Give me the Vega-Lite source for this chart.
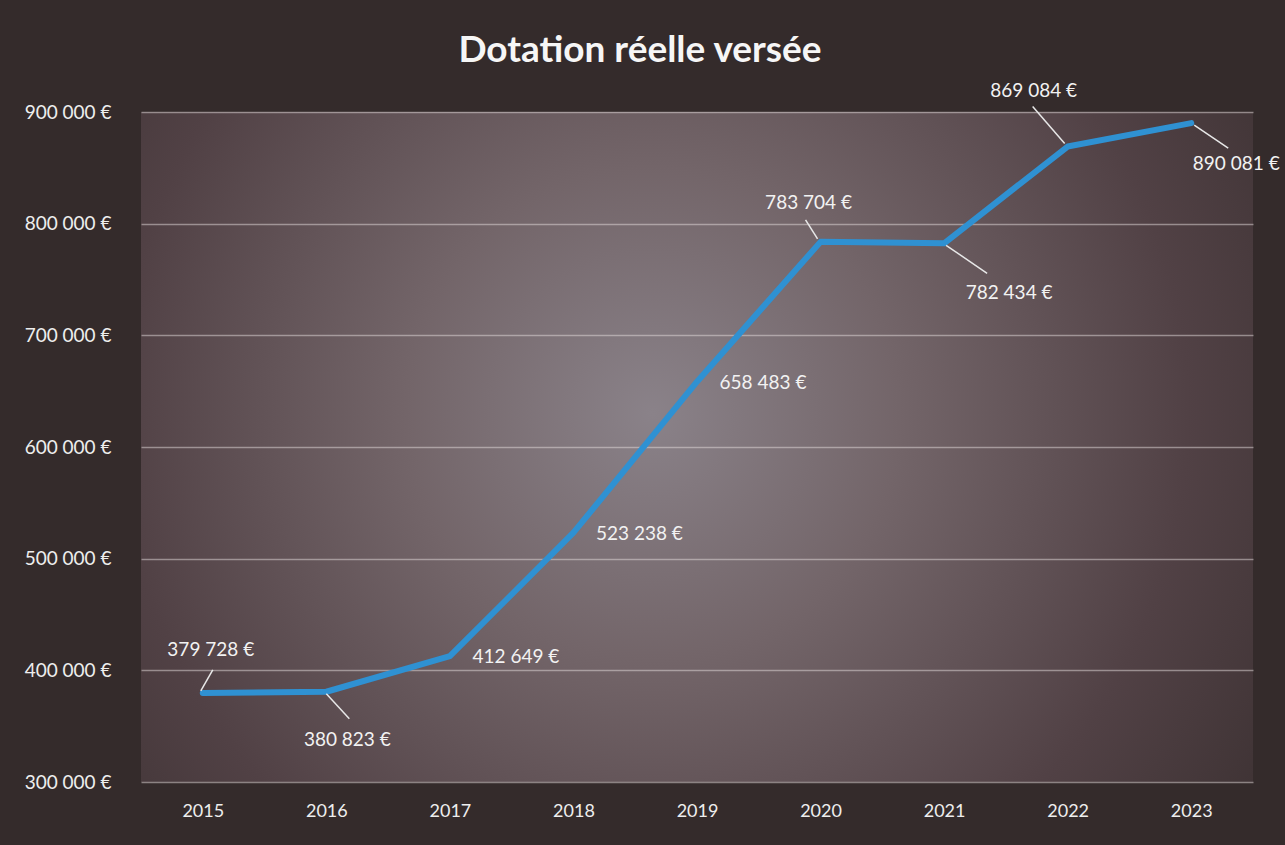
{
  "$schema": "https://vega.github.io/schema/vega-lite/v6.json",
  "width": 1112,
  "height": 670,
  "autosize": {"type": "none"},
  "padding": {"left": 141, "top": 112, "right": 32, "bottom": 63},
  "background": "#342b2b",
  "config": {
    "locale": {"number": {"decimal": ",", "thousands": " ", "grouping": [3], "currency": ["", " €"]}},
    "view": {
      "stroke": null,
      "fill": {
        "gradient": "radial",
        "x1": 0.46, "y1": 0.47, "r1": 0,
        "x2": 0.46, "y2": 0.47, "r2": 0.74,
        "stops": [
          {"offset": 0, "color": "#8a8289"},
          {"offset": 0.3, "color": "#736569"},
          {"offset": 0.65, "color": "#514145"},
          {"offset": 1, "color": "#342b2b"}
        ]
      }
    },
    "font": "Lato",
    "text": {"font": "Lato", "fontSize": 19, "color": "#f2f2f2", "align": "center", "baseline": "middle"}
  },
  "title": {
    "text": "Dotation réelle versée",
    "font": "Lato",
    "fontSize": 37,
    "fontWeight": "bold",
    "color": "#f6f6f6",
    "anchor": "middle",
    "frame": "group",
    "dx": -57,
    "offset": 12
  },
  "data": {
    "values": [
      {"year": "2015", "value": 379728},
      {"year": "2016", "value": 380823},
      {"year": "2017", "value": 412649},
      {"year": "2018", "value": 523238},
      {"year": "2019", "value": 658483},
      {"year": "2020", "value": 783704},
      {"year": "2021", "value": 782434},
      {"year": "2022", "value": 869084},
      {"year": "2023", "value": 890081}
    ]
  },
  "encoding": {
    "x": {
      "field": "year",
      "type": "ordinal",
      "scale": {"type": "point", "padding": 0.5},
      "axis": {
        "title": null,
        "labelAngle": 0,
        "labelFont": "Lato",
        "labelFontSize": 18,
        "labelColor": "#eeeeee",
        "labelPadding": 20,
        "domain": false,
        "ticks": false,
        "grid": false
      }
    },
    "y": {
      "field": "value",
      "type": "quantitative",
      "scale": {"domain": [300000, 900000], "nice": false, "zero": false},
      "axis": {
        "title": null,
        "values": [300000, 400000, 500000, 600000, 700000, 800000, 900000],
        "format": "$,d",
        "labelFont": "Lato",
        "labelFontSize": 19,
        "labelColor": "#eeeeee",
        "labelPadding": 30,
        "domain": false,
        "ticks": false,
        "grid": true,
        "gridColor": "#e4dcdc",
        "gridOpacity": 0.5,
        "gridWidth": 1.5
      }
    }
  },
  "layer": [
    {
      "mark": {"type": "line", "color": "#2f91d2", "strokeWidth": 6, "strokeJoin": "round", "strokeCap": "round"}
    },
    {
      "transform": [{"filter": "datum.year == '2015'"}],
      "mark": {"type": "rule", "color": "#e8e8e8", "strokeWidth": 1.5, "xOffset": -2, "yOffset": -2, "x2Offset": 10, "y2Offset": -23},
      "encoding": {"x2": {"field": "year"}, "y2": {"field": "value"}}
    },
    {
      "transform": [{"filter": "datum.year == '2016'"}],
      "mark": {"type": "rule", "color": "#e8e8e8", "strokeWidth": 1.5, "xOffset": 0, "yOffset": 2, "x2Offset": 23, "y2Offset": 27},
      "encoding": {"x2": {"field": "year"}, "y2": {"field": "value"}}
    },
    {
      "transform": [{"filter": "datum.year == '2020'"}],
      "mark": {"type": "rule", "color": "#e8e8e8", "strokeWidth": 1.5, "xOffset": -3, "yOffset": -3, "x2Offset": -15, "y2Offset": -22},
      "encoding": {"x2": {"field": "year"}, "y2": {"field": "value"}}
    },
    {
      "transform": [{"filter": "datum.year == '2021'"}],
      "mark": {"type": "rule", "color": "#e8e8e8", "strokeWidth": 1.5, "xOffset": 2, "yOffset": 2, "x2Offset": 43, "y2Offset": 30},
      "encoding": {"x2": {"field": "year"}, "y2": {"field": "value"}}
    },
    {
      "transform": [{"filter": "datum.year == '2022'"}],
      "mark": {"type": "rule", "color": "#e8e8e8", "strokeWidth": 1.5, "xOffset": -3, "yOffset": -3, "x2Offset": -35, "y2Offset": -40},
      "encoding": {"x2": {"field": "year"}, "y2": {"field": "value"}}
    },
    {
      "transform": [{"filter": "datum.year == '2023'"}],
      "mark": {"type": "rule", "color": "#e8e8e8", "strokeWidth": 1.5, "xOffset": 3, "yOffset": 2, "x2Offset": 37, "y2Offset": 25},
      "encoding": {"x2": {"field": "year"}, "y2": {"field": "value"}}
    },
    {
      "transform": [{"filter": "datum.year == '2015'"}],
      "mark": {"type": "text", "dx": 8, "dy": -43},
      "encoding": {"text": {"field": "value", "type": "quantitative", "format": "$,d"}}
    },
    {
      "transform": [{"filter": "datum.year == '2016'"}],
      "mark": {"type": "text", "dx": 21, "dy": 48},
      "encoding": {"text": {"field": "value", "type": "quantitative", "format": "$,d"}}
    },
    {
      "transform": [{"filter": "datum.year == '2017' || datum.year == '2018' || datum.year == '2019'"}],
      "mark": {"type": "text", "dx": 66, "dy": 1},
      "encoding": {"text": {"field": "value", "type": "quantitative", "format": "$,d"}}
    },
    {
      "transform": [{"filter": "datum.year == '2020'"}],
      "mark": {"type": "text", "dx": -12, "dy": -39},
      "encoding": {"text": {"field": "value", "type": "quantitative", "format": "$,d"}}
    },
    {
      "transform": [{"filter": "datum.year == '2021'"}],
      "mark": {"type": "text", "dx": 65, "dy": 50},
      "encoding": {"text": {"field": "value", "type": "quantitative", "format": "$,d"}}
    },
    {
      "transform": [{"filter": "datum.year == '2022'"}],
      "mark": {"type": "text", "dx": -34, "dy": -56},
      "encoding": {"text": {"field": "value", "type": "quantitative", "format": "$,d"}}
    },
    {
      "transform": [{"filter": "datum.year == '2023'"}],
      "mark": {"type": "text", "dx": 45, "dy": 41},
      "encoding": {"text": {"field": "value", "type": "quantitative", "format": "$,d"}}
    }
  ]
}
